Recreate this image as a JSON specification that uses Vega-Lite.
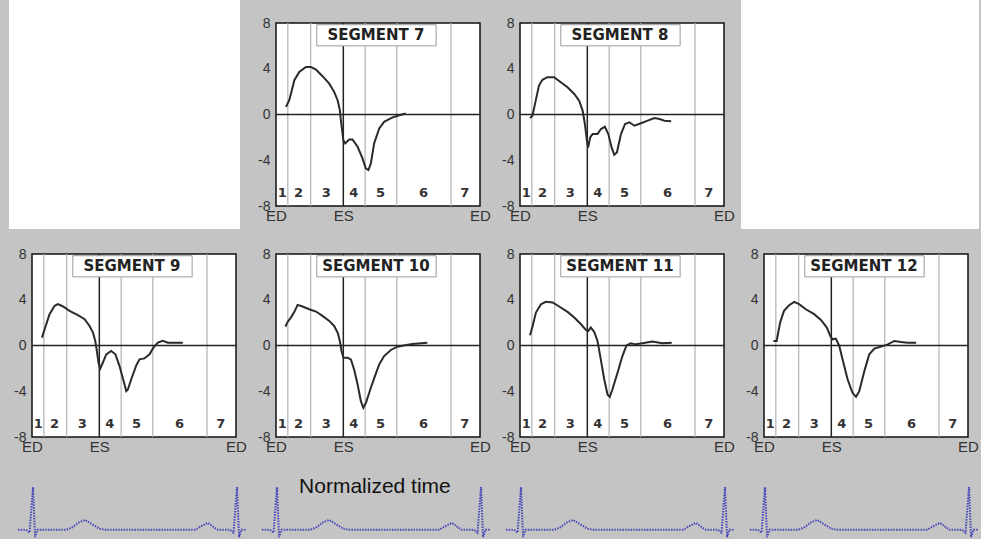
{
"$schema":"https://vega.github.io/schema/vega-lite/v6.json",
"background":"#c4c4c4",
"padding":{"left":9,"top":0,"right":0,"bottom":0},
"columns":4,
"align":"each",
"bounds":"flush",
"spacing":{"row":48,"column":40},
"datasets":{
"bounds":[{"t":0.058},{"t":0.17},{"t":0.437},{"t":0.592},{"t":0.858}],
"es":[{"t":0.33}],
"phases":[{"p":"1","t":0.031},{"p":"2","t":0.11},{"p":"3","t":0.247},{"p":"4","t":0.381},{"p":"5","t":0.512},{"p":"6","t":0.723},{"p":"7","t":0.925}],
"ecg":[{"t":-0.069,"v":0},{"t":-0.03,"v":0},{"t":-0.012,"v":-0.07},{"t":0.005,"v":1.0},{"t":0.015,"v":-0.18},{"t":0.027,"v":0},{"t":0.17,"v":0},{"t":0.2,"v":0.06},{"t":0.23,"v":0.17},{"t":0.26,"v":0.23},{"t":0.29,"v":0.14},{"t":0.33,"v":0.02},{"t":0.36,"v":0},{"t":0.8,"v":0},{"t":0.83,"v":0.08},{"t":0.863,"v":0.16},{"t":0.89,"v":0.06},{"t":0.91,"v":0},{"t":0.97,"v":0},{"t":0.988,"v":-0.07},{"t":1.005,"v":1.0},{"t":1.015,"v":-0.18},{"t":1.027,"v":0},{"t":1.05,"v":0}],
"curves":[
{"seg":7,"t":0.049,"v":0.67},{"seg":7,"t":0.065,"v":1.25},{"seg":7,"t":0.09,"v":3.0},{"seg":7,"t":0.114,"v":3.72},{"seg":7,"t":0.147,"v":4.16},{"seg":7,"t":0.171,"v":4.16},{"seg":7,"t":0.196,"v":3.93},{"seg":7,"t":0.228,"v":3.35},{"seg":7,"t":0.261,"v":2.7},{"seg":7,"t":0.285,"v":1.98},{"seg":7,"t":0.302,"v":1.25},{"seg":7,"t":0.313,"v":0.38},{"seg":7,"t":0.318,"v":-0.5},{"seg":7,"t":0.323,"v":-1.22},{"seg":7,"t":0.33,"v":-2.24},{"seg":7,"t":0.339,"v":-2.53},{"seg":7,"t":0.359,"v":-2.18},{"seg":7,"t":0.375,"v":-2.18},{"seg":7,"t":0.4,"v":-2.82},{"seg":7,"t":0.424,"v":-3.84},{"seg":7,"t":0.44,"v":-4.71},{"seg":7,"t":0.453,"v":-4.86},{"seg":7,"t":0.465,"v":-4.28},{"seg":7,"t":0.481,"v":-2.53},{"seg":7,"t":0.506,"v":-1.22},{"seg":7,"t":0.53,"v":-0.64},{"seg":7,"t":0.571,"v":-0.26},{"seg":7,"t":0.604,"v":-0.06},{"seg":7,"t":0.636,"v":0.09},
{"seg":8,"t":0.049,"v":-0.31},{"seg":8,"t":0.061,"v":-0.1},{"seg":8,"t":0.077,"v":1.21},{"seg":8,"t":0.093,"v":2.53},{"seg":8,"t":0.11,"v":3.03},{"seg":8,"t":0.134,"v":3.26},{"seg":8,"t":0.167,"v":3.26},{"seg":8,"t":0.2,"v":2.82},{"seg":8,"t":0.233,"v":2.38},{"seg":8,"t":0.266,"v":1.8},{"seg":8,"t":0.29,"v":1.21},{"seg":8,"t":0.307,"v":0.34},{"seg":8,"t":0.318,"v":-0.83},{"seg":8,"t":0.328,"v":-2.29},{"seg":8,"t":0.334,"v":-2.88},{"seg":8,"t":0.344,"v":-2.0},{"seg":8,"t":0.356,"v":-1.71},{"seg":8,"t":0.38,"v":-1.71},{"seg":8,"t":0.397,"v":-1.27},{"seg":8,"t":0.416,"v":-1.07},{"seg":8,"t":0.433,"v":-1.71},{"seg":8,"t":0.449,"v":-2.88},{"seg":8,"t":0.462,"v":-3.52},{"seg":8,"t":0.475,"v":-3.32},{"seg":8,"t":0.495,"v":-1.71},{"seg":8,"t":0.515,"v":-0.83},{"seg":8,"t":0.536,"v":-0.68},{"seg":8,"t":0.561,"v":-0.98},{"seg":8,"t":0.593,"v":-0.77},{"seg":8,"t":0.626,"v":-0.54},{"seg":8,"t":0.659,"v":-0.31},{"seg":8,"t":0.684,"v":-0.39},{"seg":8,"t":0.708,"v":-0.54},{"seg":8,"t":0.741,"v":-0.6},
{"seg":9,"t":0.049,"v":0.69},{"seg":9,"t":0.062,"v":1.42},{"seg":9,"t":0.086,"v":2.73},{"seg":9,"t":0.111,"v":3.47},{"seg":9,"t":0.127,"v":3.61},{"seg":9,"t":0.152,"v":3.41},{"seg":9,"t":0.184,"v":3.03},{"seg":9,"t":0.225,"v":2.65},{"seg":9,"t":0.258,"v":2.3},{"seg":9,"t":0.282,"v":1.71},{"seg":9,"t":0.299,"v":1.13},{"seg":9,"t":0.31,"v":0.4},{"seg":9,"t":0.318,"v":-0.48},{"seg":9,"t":0.326,"v":-1.51},{"seg":9,"t":0.334,"v":-2.03},{"seg":9,"t":0.347,"v":-1.51},{"seg":9,"t":0.364,"v":-0.77},{"seg":9,"t":0.388,"v":-0.48},{"seg":9,"t":0.409,"v":-0.77},{"seg":9,"t":0.429,"v":-1.8},{"seg":9,"t":0.449,"v":-3.11},{"seg":9,"t":0.462,"v":-3.99},{"seg":9,"t":0.47,"v":-3.85},{"seg":9,"t":0.486,"v":-2.97},{"seg":9,"t":0.511,"v":-1.74},{"seg":9,"t":0.527,"v":-1.21},{"seg":9,"t":0.551,"v":-1.13},{"seg":9,"t":0.576,"v":-0.77},{"seg":9,"t":0.595,"v":-0.19},{"seg":9,"t":0.617,"v":0.25},{"seg":9,"t":0.641,"v":0.4},{"seg":9,"t":0.666,"v":0.25},{"seg":9,"t":0.698,"v":0.25},{"seg":9,"t":0.739,"v":0.25},
{"seg":10,"t":0.046,"v":1.65},{"seg":10,"t":0.057,"v":2.06},{"seg":10,"t":0.073,"v":2.44},{"seg":10,"t":0.09,"v":2.94},{"seg":10,"t":0.106,"v":3.55},{"seg":10,"t":0.13,"v":3.41},{"seg":10,"t":0.163,"v":3.17},{"seg":10,"t":0.196,"v":2.97},{"seg":10,"t":0.228,"v":2.59},{"seg":10,"t":0.261,"v":2.15},{"seg":10,"t":0.285,"v":1.71},{"seg":10,"t":0.302,"v":1.13},{"seg":10,"t":0.313,"v":0.4},{"seg":10,"t":0.321,"v":-0.48},{"seg":10,"t":0.331,"v":-1.07},{"seg":10,"t":0.351,"v":-1.07},{"seg":10,"t":0.367,"v":-1.21},{"seg":10,"t":0.383,"v":-2.09},{"seg":10,"t":0.4,"v":-3.41},{"seg":10,"t":0.416,"v":-4.87},{"seg":10,"t":0.428,"v":-5.45},{"seg":10,"t":0.441,"v":-5.01},{"seg":10,"t":0.462,"v":-3.85},{"seg":10,"t":0.485,"v":-2.68},{"seg":10,"t":0.506,"v":-1.65},{"seg":10,"t":0.53,"v":-0.92},{"seg":10,"t":0.563,"v":-0.39},{"seg":10,"t":0.595,"v":-0.1},{"seg":10,"t":0.625,"v":0.0},{"seg":10,"t":0.669,"v":0.14},{"seg":10,"t":0.742,"v":0.25},
{"seg":11,"t":0.049,"v":0.89},{"seg":11,"t":0.062,"v":1.71},{"seg":11,"t":0.078,"v":2.88},{"seg":11,"t":0.103,"v":3.61},{"seg":11,"t":0.127,"v":3.82},{"seg":11,"t":0.16,"v":3.76},{"seg":11,"t":0.192,"v":3.41},{"seg":11,"t":0.233,"v":2.94},{"seg":11,"t":0.266,"v":2.44},{"seg":11,"t":0.299,"v":1.86},{"seg":11,"t":0.323,"v":1.36},{"seg":11,"t":0.335,"v":1.27},{"seg":11,"t":0.347,"v":1.57},{"seg":11,"t":0.364,"v":1.18},{"seg":11,"t":0.38,"v":0.4},{"seg":11,"t":0.396,"v":-1.21},{"seg":11,"t":0.413,"v":-2.97},{"seg":11,"t":0.429,"v":-4.28},{"seg":11,"t":0.44,"v":-4.49},{"seg":11,"t":0.453,"v":-3.85},{"seg":11,"t":0.478,"v":-2.38},{"seg":11,"t":0.502,"v":-0.92},{"seg":11,"t":0.522,"v":0.01},{"seg":11,"t":0.543,"v":0.19},{"seg":11,"t":0.568,"v":0.1},{"seg":11,"t":0.6,"v":0.19},{"seg":11,"t":0.649,"v":0.34},{"seg":11,"t":0.698,"v":0.19},{"seg":11,"t":0.744,"v":0.25},
{"seg":12,"t":0.046,"v":0.4},{"seg":12,"t":0.062,"v":0.4},{"seg":12,"t":0.079,"v":2.0},{"seg":12,"t":0.098,"v":3.03},{"seg":12,"t":0.123,"v":3.52},{"seg":12,"t":0.148,"v":3.82},{"seg":12,"t":0.172,"v":3.61},{"seg":12,"t":0.205,"v":3.17},{"seg":12,"t":0.246,"v":2.74},{"seg":12,"t":0.279,"v":2.24},{"seg":12,"t":0.308,"v":1.57},{"seg":12,"t":0.325,"v":0.83},{"seg":12,"t":0.336,"v":0.54},{"seg":12,"t":0.352,"v":0.6},{"seg":12,"t":0.369,"v":-0.04},{"seg":12,"t":0.385,"v":-1.21},{"seg":12,"t":0.41,"v":-2.97},{"seg":12,"t":0.434,"v":-4.14},{"seg":12,"t":0.451,"v":-4.49},{"seg":12,"t":0.467,"v":-3.99},{"seg":12,"t":0.492,"v":-2.24},{"seg":12,"t":0.516,"v":-0.77},{"seg":12,"t":0.541,"v":-0.27},{"seg":12,"t":0.574,"v":-0.1},{"seg":12,"t":0.607,"v":0.1},{"seg":12,"t":0.639,"v":0.4},{"seg":12,"t":0.672,"v":0.31},{"seg":12,"t":0.705,"v":0.25},{"seg":12,"t":0.746,"v":0.25}
]
},
"concat":[
{"width":185,"height":183,"data":{"values":[]},"mark":"point","view":{"fill":"white","stroke":"white","strokeWidth":46}},
{"width":204,"height":183,"layer":[
{"data":{"name":"bounds"},"mark":{"type":"rule","color":"#b3b3b3","strokeWidth":1.2},"encoding":{"x":{"field":"t","type":"quantitative","title":null,"scale":{"domain":[0,1],"nice":false,"zero":false},"axis":{"values":[0,0.33,1],"labelExpr":"datum.value == 0.33 ? 'ES' : 'ED'","labelFlush":false}}}},
{"data":{"name":"es"},"mark":{"type":"rule","color":"#222","strokeWidth":1.5},"encoding":{"x":{"field":"t","type":"quantitative","title":null}}},
{"data":{"values":[{}]},"mark":{"type":"rule","color":"#222","strokeWidth":1.5},"encoding":{"y":{"datum":0,"type":"quantitative","scale":{"domain":[-8,8],"nice":false,"zero":false},"axis":{"values":[-8,-4,0,4,8],"labelExpr":"'' + datum.value"}}}},
{"data":{"name":"phases"},"mark":{"type":"text","font":"DejaVu Sans","fontWeight":"bold","fontSize":13,"color":"#333"},"encoding":{"x":{"field":"t","type":"quantitative","title":null},"y":{"datum":-6.9},"text":{"field":"p"}}},
{"data":{"name":"curves"},"transform":[{"filter":"datum.seg == 7"}],"mark":{"type":"line","color":"#2a2a2a","strokeWidth":2},"encoding":{"x":{"field":"t","type":"quantitative","title":null},"y":{"field":"v","type":"quantitative","title":null}}},
{"data":{"values":[{}]},"mark":{"type":"rect","fill":"white","stroke":"#9a9a9a","strokeWidth":1},"encoding":{"x":{"datum":0.2},"x2":{"datum":0.785},"y":{"datum":6.0},"y2":{"datum":7.85}}},
{"data":{"values":[{}]},"mark":{"type":"text","font":"DejaVu Sans","fontWeight":"bold","fontSize":15,"color":"#222"},"encoding":{"x":{"datum":0.49},"y":{"datum":6.95},"text":{"value":"SEGMENT 7"}}}
]},
{"width":204,"height":183,"layer":[
{"data":{"name":"bounds"},"mark":{"type":"rule","color":"#b3b3b3","strokeWidth":1.2},"encoding":{"x":{"field":"t","type":"quantitative","title":null,"scale":{"domain":[0,1],"nice":false,"zero":false},"axis":{"values":[0,0.33,1],"labelExpr":"datum.value == 0.33 ? 'ES' : 'ED'","labelFlush":false}}}},
{"data":{"name":"es"},"mark":{"type":"rule","color":"#222","strokeWidth":1.5},"encoding":{"x":{"field":"t","type":"quantitative","title":null}}},
{"data":{"values":[{}]},"mark":{"type":"rule","color":"#222","strokeWidth":1.5},"encoding":{"y":{"datum":0,"type":"quantitative","scale":{"domain":[-8,8],"nice":false,"zero":false},"axis":{"values":[-8,-4,0,4,8],"labelExpr":"'' + datum.value"}}}},
{"data":{"name":"phases"},"mark":{"type":"text","font":"DejaVu Sans","fontWeight":"bold","fontSize":13,"color":"#333"},"encoding":{"x":{"field":"t","type":"quantitative","title":null},"y":{"datum":-6.9},"text":{"field":"p"}}},
{"data":{"name":"curves"},"transform":[{"filter":"datum.seg == 8"}],"mark":{"type":"line","color":"#2a2a2a","strokeWidth":2},"encoding":{"x":{"field":"t","type":"quantitative","title":null},"y":{"field":"v","type":"quantitative","title":null}}},
{"data":{"values":[{}]},"mark":{"type":"rect","fill":"white","stroke":"#9a9a9a","strokeWidth":1},"encoding":{"x":{"datum":0.2},"x2":{"datum":0.785},"y":{"datum":6.0},"y2":{"datum":7.85}}},
{"data":{"values":[{}]},"mark":{"type":"text","font":"DejaVu Sans","fontWeight":"bold","fontSize":15,"color":"#222"},"encoding":{"x":{"datum":0.49},"y":{"datum":6.95},"text":{"value":"SEGMENT 8"}}}
]},
{"width":192,"height":183,"data":{"values":[]},"mark":"point","view":{"fill":"white","stroke":"white","strokeWidth":46}},
{"width":204,"height":183,"layer":[
{"data":{"name":"bounds"},"mark":{"type":"rule","color":"#b3b3b3","strokeWidth":1.2},"encoding":{"x":{"field":"t","type":"quantitative","title":null,"scale":{"domain":[0,1],"nice":false,"zero":false},"axis":{"values":[0,0.33,1],"labelExpr":"datum.value == 0.33 ? 'ES' : 'ED'","labelFlush":false}}}},
{"data":{"name":"es"},"mark":{"type":"rule","color":"#222","strokeWidth":1.5},"encoding":{"x":{"field":"t","type":"quantitative","title":null}}},
{"data":{"values":[{}]},"mark":{"type":"rule","color":"#222","strokeWidth":1.5},"encoding":{"y":{"datum":0,"type":"quantitative","scale":{"domain":[-8,8],"nice":false,"zero":false},"axis":{"values":[-8,-4,0,4,8],"labelExpr":"'' + datum.value"}}}},
{"data":{"name":"phases"},"mark":{"type":"text","font":"DejaVu Sans","fontWeight":"bold","fontSize":13,"color":"#333"},"encoding":{"x":{"field":"t","type":"quantitative","title":null},"y":{"datum":-6.9},"text":{"field":"p"}}},
{"data":{"name":"curves"},"transform":[{"filter":"datum.seg == 9"}],"mark":{"type":"line","color":"#2a2a2a","strokeWidth":2},"encoding":{"x":{"field":"t","type":"quantitative","title":null},"y":{"field":"v","type":"quantitative","title":null}}},
{"data":{"values":[{}]},"mark":{"type":"rect","fill":"white","stroke":"#9a9a9a","strokeWidth":1},"encoding":{"x":{"datum":0.2},"x2":{"datum":0.785},"y":{"datum":6.0},"y2":{"datum":7.85}}},
{"data":{"values":[{}]},"mark":{"type":"text","font":"DejaVu Sans","fontWeight":"bold","fontSize":15,"color":"#222"},"encoding":{"x":{"datum":0.49},"y":{"datum":6.95},"text":{"value":"SEGMENT 9"}}}
]},
{"width":204,"height":183,"layer":[
{"data":{"name":"bounds"},"mark":{"type":"rule","color":"#b3b3b3","strokeWidth":1.2},"encoding":{"x":{"field":"t","type":"quantitative","title":null,"scale":{"domain":[0,1],"nice":false,"zero":false},"axis":{"values":[0,0.33,1],"labelExpr":"datum.value == 0.33 ? 'ES' : 'ED'","labelFlush":false}}}},
{"data":{"name":"es"},"mark":{"type":"rule","color":"#222","strokeWidth":1.5},"encoding":{"x":{"field":"t","type":"quantitative","title":null}}},
{"data":{"values":[{}]},"mark":{"type":"rule","color":"#222","strokeWidth":1.5},"encoding":{"y":{"datum":0,"type":"quantitative","scale":{"domain":[-8,8],"nice":false,"zero":false},"axis":{"values":[-8,-4,0,4,8],"labelExpr":"'' + datum.value"}}}},
{"data":{"name":"phases"},"mark":{"type":"text","font":"DejaVu Sans","fontWeight":"bold","fontSize":13,"color":"#333"},"encoding":{"x":{"field":"t","type":"quantitative","title":null},"y":{"datum":-6.9},"text":{"field":"p"}}},
{"data":{"name":"curves"},"transform":[{"filter":"datum.seg == 10"}],"mark":{"type":"line","color":"#2a2a2a","strokeWidth":2},"encoding":{"x":{"field":"t","type":"quantitative","title":null},"y":{"field":"v","type":"quantitative","title":null}}},
{"data":{"values":[{}]},"mark":{"type":"rect","fill":"white","stroke":"#9a9a9a","strokeWidth":1},"encoding":{"x":{"datum":0.2},"x2":{"datum":0.785},"y":{"datum":6.0},"y2":{"datum":7.85}}},
{"data":{"values":[{}]},"mark":{"type":"text","font":"DejaVu Sans","fontWeight":"bold","fontSize":15,"color":"#222"},"encoding":{"x":{"datum":0.49},"y":{"datum":6.95},"text":{"value":"SEGMENT 10"}}}
]},
{"width":204,"height":183,"layer":[
{"data":{"name":"bounds"},"mark":{"type":"rule","color":"#b3b3b3","strokeWidth":1.2},"encoding":{"x":{"field":"t","type":"quantitative","title":null,"scale":{"domain":[0,1],"nice":false,"zero":false},"axis":{"values":[0,0.33,1],"labelExpr":"datum.value == 0.33 ? 'ES' : 'ED'","labelFlush":false}}}},
{"data":{"name":"es"},"mark":{"type":"rule","color":"#222","strokeWidth":1.5},"encoding":{"x":{"field":"t","type":"quantitative","title":null}}},
{"data":{"values":[{}]},"mark":{"type":"rule","color":"#222","strokeWidth":1.5},"encoding":{"y":{"datum":0,"type":"quantitative","scale":{"domain":[-8,8],"nice":false,"zero":false},"axis":{"values":[-8,-4,0,4,8],"labelExpr":"'' + datum.value"}}}},
{"data":{"name":"phases"},"mark":{"type":"text","font":"DejaVu Sans","fontWeight":"bold","fontSize":13,"color":"#333"},"encoding":{"x":{"field":"t","type":"quantitative","title":null},"y":{"datum":-6.9},"text":{"field":"p"}}},
{"data":{"name":"curves"},"transform":[{"filter":"datum.seg == 11"}],"mark":{"type":"line","color":"#2a2a2a","strokeWidth":2},"encoding":{"x":{"field":"t","type":"quantitative","title":null},"y":{"field":"v","type":"quantitative","title":null}}},
{"data":{"values":[{}]},"mark":{"type":"rect","fill":"white","stroke":"#9a9a9a","strokeWidth":1},"encoding":{"x":{"datum":0.2},"x2":{"datum":0.785},"y":{"datum":6.0},"y2":{"datum":7.85}}},
{"data":{"values":[{}]},"mark":{"type":"text","font":"DejaVu Sans","fontWeight":"bold","fontSize":15,"color":"#222"},"encoding":{"x":{"datum":0.49},"y":{"datum":6.95},"text":{"value":"SEGMENT 11"}}}
]},
{"width":204,"height":183,"layer":[
{"data":{"name":"bounds"},"mark":{"type":"rule","color":"#b3b3b3","strokeWidth":1.2},"encoding":{"x":{"field":"t","type":"quantitative","title":null,"scale":{"domain":[0,1],"nice":false,"zero":false},"axis":{"values":[0,0.33,1],"labelExpr":"datum.value == 0.33 ? 'ES' : 'ED'","labelFlush":false}}}},
{"data":{"name":"es"},"mark":{"type":"rule","color":"#222","strokeWidth":1.5},"encoding":{"x":{"field":"t","type":"quantitative","title":null}}},
{"data":{"values":[{}]},"mark":{"type":"rule","color":"#222","strokeWidth":1.5},"encoding":{"y":{"datum":0,"type":"quantitative","scale":{"domain":[-8,8],"nice":false,"zero":false},"axis":{"values":[-8,-4,0,4,8],"labelExpr":"'' + datum.value"}}}},
{"data":{"name":"phases"},"mark":{"type":"text","font":"DejaVu Sans","fontWeight":"bold","fontSize":13,"color":"#333"},"encoding":{"x":{"field":"t","type":"quantitative","title":null},"y":{"datum":-6.9},"text":{"field":"p"}}},
{"data":{"name":"curves"},"transform":[{"filter":"datum.seg == 12"}],"mark":{"type":"line","color":"#2a2a2a","strokeWidth":2},"encoding":{"x":{"field":"t","type":"quantitative","title":null},"y":{"field":"v","type":"quantitative","title":null}}},
{"data":{"values":[{}]},"mark":{"type":"rect","fill":"white","stroke":"#9a9a9a","strokeWidth":1},"encoding":{"x":{"datum":0.2},"x2":{"datum":0.785},"y":{"datum":6.0},"y2":{"datum":7.85}}},
{"data":{"values":[{}]},"mark":{"type":"text","font":"DejaVu Sans","fontWeight":"bold","fontSize":15,"color":"#222"},"encoding":{"x":{"datum":0.49},"y":{"datum":6.95},"text":{"value":"SEGMENT 12"}}}
]},
{"width":204,"height":54,"view":{"fill":null,"stroke":null},"data":{"name":"ecg"},"mark":{"type":"line","color":"#4848b8","strokeWidth":2,"strokeDash":[1.5,1.2]},"encoding":{"x":{"field":"t","type":"quantitative","title":null,"scale":{"domain":[0,1],"nice":false,"zero":false},"axis":null},"y":{"field":"v","type":"quantitative","title":null,"scale":{"domain":[-0.22,1.05],"nice":false,"zero":false},"axis":null}}},
{"width":204,"height":54,"view":{"fill":null,"stroke":null},"layer":[
{"data":{"name":"ecg"},"mark":{"type":"line","color":"#4848b8","strokeWidth":2,"strokeDash":[1.5,1.2]},"encoding":{"x":{"field":"t","type":"quantitative","title":null,"scale":{"domain":[0,1],"nice":false,"zero":false},"axis":null},"y":{"field":"v","type":"quantitative","title":null,"scale":{"domain":[-0.22,1.05],"nice":false,"zero":false},"axis":null}}},
{"data":{"values":[{}]},"mark":{"type":"text","font":"Liberation Sans, Arial, sans-serif","fontSize":21,"color":"#111"},"encoding":{"x":{"datum":0.485},"y":{"datum":1.0},"text":{"value":"Normalized time"}}}
]},
{"width":204,"height":54,"view":{"fill":null,"stroke":null},"data":{"name":"ecg"},"mark":{"type":"line","color":"#4848b8","strokeWidth":2,"strokeDash":[1.5,1.2]},"encoding":{"x":{"field":"t","type":"quantitative","title":null,"scale":{"domain":[0,1],"nice":false,"zero":false},"axis":null},"y":{"field":"v","type":"quantitative","title":null,"scale":{"domain":[-0.22,1.05],"nice":false,"zero":false},"axis":null}}},
{"width":204,"height":54,"view":{"fill":null,"stroke":null},"data":{"name":"ecg"},"mark":{"type":"line","color":"#4848b8","strokeWidth":2,"strokeDash":[1.5,1.2]},"encoding":{"x":{"field":"t","type":"quantitative","title":null,"scale":{"domain":[0,1],"nice":false,"zero":false},"axis":null},"y":{"field":"v","type":"quantitative","title":null,"scale":{"domain":[-0.22,1.05],"nice":false,"zero":false},"axis":null}}}
],
"config":{
"view":{"stroke":"#111","strokeWidth":1.5,"fill":"white"},
"axis":{"labelFont":"Liberation Sans Narrow, Arial Narrow, Liberation Sans, sans-serif","labelFontSize":14,"labelColor":"#333","ticks":false,"domain":false,"grid":false},
"axisX":{"labelFontSize":15,"labelPadding":2},
"axisY":{"labelPadding":6}
}
}
